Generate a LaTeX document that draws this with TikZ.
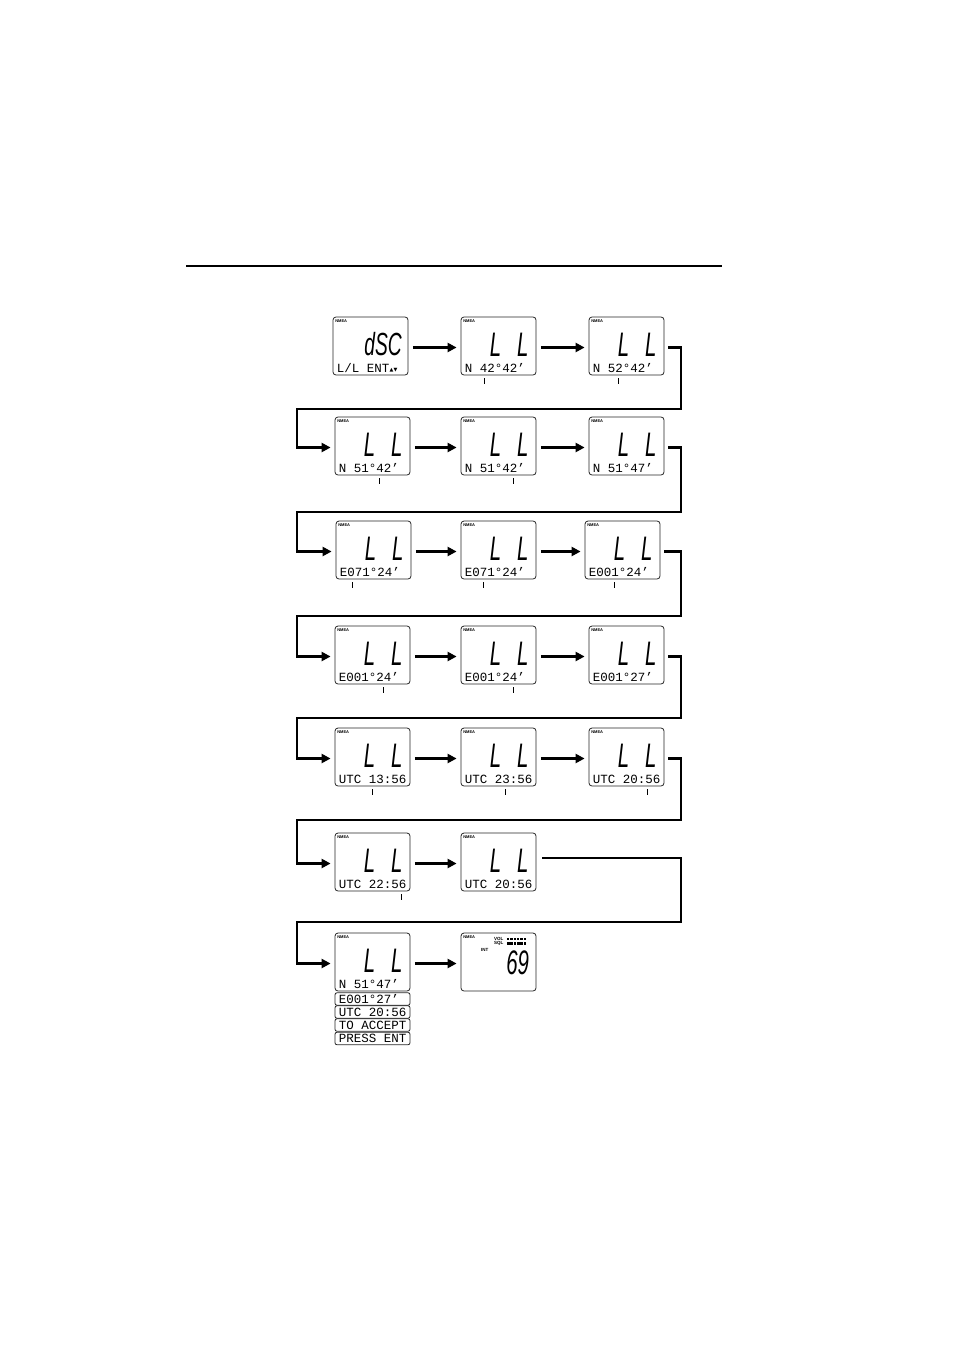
\documentclass[tikz,border=0pt]{standalone}
\usepackage{fontspec}
\usetikzlibrary{arrows.meta, positioning, calc}

\newfontfamily\lcdfont{Liberation Mono}
\newfontfamily\segfont{Liberation Sans}[FakeStretch=0.6]
\newfontfamily\tagfont{Liberation Sans}
\newfontfamily\symfont{DejaVu Sans}

\tikzset{
	screen/.style = {draw = black!85, line width = 0.8pt, rounded corners = 3pt,
		minimum width = 75pt, minimum height = 58pt, inner sep = 0pt},
	strip/.style = {draw = black!85, line width = 0.8pt, rounded corners = 2pt,
		minimum width = 75pt, minimum height = 12.5pt, inner sep = 0pt},
	nmea/.style = {font = \tagfont\bfseries\fontsize{4}{4}\selectfont, inner sep = 0pt, anchor = north west},
	tinytag/.style = {font = \tagfont\bfseries\fontsize{4.5}{4.5}\selectfont, inner sep = 0pt, anchor = west},
	bigseg/.style = {font = \segfont\itshape\fontsize{34}{34}\selectfont, inner sep = 0pt},
	readout/.style = {font = \lcdfont\fontsize{12.5}{12.5}\selectfont, inner sep = 0pt, anchor = base west},
	flow/.style = {line width = 2.6pt, -{Triangle[length = 9pt, width = 9pt]}},
	cursor/.style = {line width = 0.9pt}
}

% one LL screen: name, left, top, readout
\newcommand{\llscreen}[4]{%
	\node [screen] (#1) at (#2 + 37.5, #3 + 29) {};
	\node [nmea] at ([shift = {(2.5, 2.5)}] #1.north west) {NMEA};
	\node [bigseg] at ([shift = {(48.5, -1)}] #1.west) {L\hspace{16pt}L};
	\node [readout] at ([shift = {(4, -3.4)}] #1.south west) {#4};
}

\begin{document}
\begin{tikzpicture}[x = 1pt, y = -1pt]

	\useasboundingbox (0, 0) rectangle (954, 1351);

	% Rule

	\draw [line width = 1.2pt] (186, 266) -- (722, 266);

	% Screens

	\node [screen] (a1) at (333 + 37.5, 317 + 29) {};
	\node [nmea] at ([shift = {(2.5, 2.5)}] a1.north west) {NMEA};
	\node [bigseg, font = \segfont\itshape\fontsize{32}{32}\selectfont] at ([shift = {(50.5, -2)}] a1.west) {dSC};
	\node [readout] (ent) at ([shift = {(4, -3.4)}] a1.south west) {L/L ENT};
	\node [font = \symfont\fontsize{5}{5}\selectfont, inner sep = 0pt, anchor = base west] at ([yshift = 1pt] ent.base east) {▲▼};

	\llscreen{a2}{461}{317}{N 42°42’}
	\llscreen{a3}{589}{317}{N 52°42’}

	\llscreen{b1}{335}{417}{N 51°42’}
	\llscreen{b2}{461}{417}{N 51°42’}
	\llscreen{b3}{589}{417}{N 51°47’}

	\llscreen{c1}{336}{521}{E071°24’}
	\llscreen{c2}{461}{521}{E071°24’}
	\llscreen{c3}{585}{521}{E001°24’}

	\llscreen{d1}{335}{626}{E001°24’}
	\llscreen{d2}{461}{626}{E001°24’}
	\llscreen{d3}{589}{626}{E001°27’}

	\llscreen{e1}{335}{728}{UTC 13:56}
	\llscreen{e2}{461}{728}{UTC 23:56}
	\llscreen{e3}{589}{728}{UTC 20:56}

	\llscreen{f1}{335}{833}{UTC 22:56}
	\llscreen{f2}{461}{833}{UTC 20:56}

	\llscreen{g1}{335}{933}{N 51°47’}

	% Summary strips

	\node [strip] (s1) at (372.5, 999) {};
	\node [strip] (s2) at (372.5, 1012) {};
	\node [strip] (s3) at (372.5, 1025) {};
	\node [strip] (s4) at (372.5, 1038.5) {};
	\node [readout] at ([shift = {(4, -2.5)}] s1.south west) {E001°27’};
	\node [readout] at ([shift = {(4, -2.5)}] s2.south west) {UTC 20:56};
	\node [readout] at ([shift = {(4, -2.5)}] s3.south west) {TO ACCEPT};
	\node [readout] at ([shift = {(4, -2.5)}] s4.south west) {PRESS ENT};

	% Channel screen

	\node [screen] (g2) at (461 + 37.5, 933 + 29) {};
	\node [nmea] at ([shift = {(2.5, 2.5)}] g2.north west) {NMEA};
	\node [tinytag] (vol) at (494, 939) {VOL};
	\node [tinytag] (sql) at (494, 943.5) {SQL};
	\node [tinytag] (int) at (481, 949.5) {INT};
	\foreach \i in {0, ..., 5}
	{
		\fill (507 + \i * 3.3, 938.3) rectangle ++(2.3, 1.4);
		\fill (507 + \i * 3.3, 942.4) rectangle ++(2.6, 2.4);
	}
	\node [bigseg] at ([shift = {(57, 1)}] g2.west) {69};

	% Cursor marks

	\foreach \x/\y in {484/378, 618/378, 379/478, 513/478, 352/582, 483/582, 614/582,
		383/687, 513/687, 372/789, 505/789, 647/789, 401/894}
	{
		\draw [cursor] (\x, \y) -- ++(0, 6);
	}

	% Arrows along rows

	\foreach \a/\b in {a1/a2, a2/a3, b1/b2, b2/b3, c1/c2, c2/c3, d1/d2, d2/d3,
		e1/e2, e2/e3, f1/f2, g1/g2}
	{
		\draw [flow, shorten <= 4.5pt, shorten >= 4pt] ([yshift = -1.5pt] \a.east) -- ([yshift = -1.5pt] \b.west);
	}

	% Arrows between rows

	\foreach \a/\b/\y in {a3/b1/409, b3/c1/512, c3/d1/616, d3/e1/718, e3/f1/820}
	{
		\draw [flow] ([xshift = 4pt, yshift = -1.5pt] \a.east) -| (681, \y) -- (297, \y) |- ([xshift = -4pt, yshift = -1.5pt] \b.west);
	}

	\coordinate (rail) at (681, 858);
	\draw [line width = 1.6pt] ([xshift = 6pt, yshift = 4pt] f2.east) -- (rail);
	\draw [flow] ([yshift = 0.8pt] rail) -- (681, 922) -- (297, 922) |- ([xshift = -4pt, yshift = -1.5pt] g1.west);

\end{tikzpicture}
\end{document}
